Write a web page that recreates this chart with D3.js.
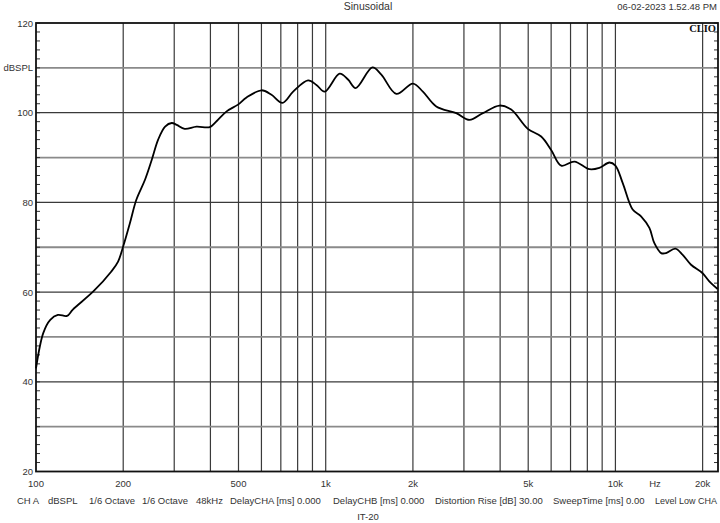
<!DOCTYPE html>
<html>
<head>
<meta charset="utf-8">
<script src="https://cdn.jsdelivr.net/npm/d3@7/dist/d3.min.js"></script>
<style>
html,body{margin:0;padding:0;background:#fff;}
svg{display:block;}
text{font-family:"Liberation Sans",Arial,sans-serif;font-size:9.5px;fill:#333;}
</style>
</head>
<body>
<svg id="chart" width="720" height="523"></svg>
<script>
// Frequency response data (Hz, dBSPL)
const freqs = [100,106,112,119,128,134,158,182,192,200,211,222,238,251,264,279,294,306,326,358,398,420,455,498,533,600,650,709,772,869,929,992,1117,1194,1269,1449,1556,1753,2000,2165,2408,2823,3137,3486,3981,4368,4985,5543,6001,6500,7222,8136,8800,9535,10000,10600,11470,12260,13100,13630,14380,14960,16100,17070,18240,20000,21090,22530];
const spl   = [43.0,50.9,53.8,54.9,54.7,56.1,60.2,64.6,66.8,70.2,75.4,80.6,85.1,89.5,94.0,96.9,97.7,97.3,96.4,96.9,96.8,98.1,100.3,101.8,103.4,105.0,104.0,102.2,104.7,107.2,106.2,104.7,108.7,107.4,105.5,110.1,108.5,104.2,106.5,104.7,101.4,99.9,98.4,99.9,101.6,100.7,96.4,94.7,91.7,88.2,89.1,87.4,87.7,88.9,88.2,84.3,78.4,76.9,74.3,70.9,68.7,68.7,69.7,68.3,66.1,64.2,62.4,60.7];

const xGrid = [200,300,400,500,600,700,800,900,1000,2000,3000,4000,5000,6000,7000,8000,9000,10000,20000];
const xTickVals = [100,200,500,1000,2000,5000,10000,20000];
const xTickLabels = ["100","200","500","1k","2k","5k","10k","20k"];
const yMajor = [40,60,80,100];
const yMinorGrid = [30,50,70,90,110];
const yTickVals = [20,40,60,80,100,120];
const yTickLabels = ["20","40","60","80","100","120"];
const infoItems = ["CH A","dBSPL","1/6 Octave","1/6 Octave","48kHz","DelayCHA [ms] 0.000","DelayCHB [ms] 0.000","Distortion Rise [dB] 30.00","SweepTime [ms] 0.00","Level Low CHA"];
const infoX = [17,48,89,142,196,230,333,435,553,655];

const L = 36, R = 718, T = 23, B = 471.5;
const svg = d3.select("#chart");
const x = d3.scaleLog().domain([100, 22600]).range([L, R]);
const y = d3.scaleLinear().domain([20, 120]).range([B, T]);

// grid
const g = svg.append("g");
g.selectAll(".vg").data(xGrid).enter().append("line")
  .attr("x1", d => x(d)).attr("x2", d => x(d)).attr("y1", T).attr("y2", B)
  .attr("stroke", "#3a3a3a").attr("stroke-width", 1.2);
g.selectAll(".hgm").data(yMinorGrid).enter().append("line")
  .attr("x1", L).attr("x2", R).attr("y1", d => y(d)).attr("y2", d => y(d))
  .attr("stroke", "#8a8a8a").attr("stroke-width", 1.8);
g.selectAll(".hg").data(yMajor).enter().append("line")
  .attr("x1", L).attr("x2", R).attr("y1", d => y(d)).attr("y2", d => y(d))
  .attr("stroke", "#3a3a3a").attr("stroke-width", 1.2);

// minor ticks every 2 dB
const minor = d3.range(20, 121, 2);
g.selectAll(".lt").data(minor).enter().append("line")
  .attr("x1", L).attr("x2", L + 4).attr("y1", d => y(d)).attr("y2", d => y(d))
  .attr("stroke", "#333").attr("stroke-width", 1);
g.selectAll(".rt").data(minor).enter().append("line")
  .attr("x1", R - 4).attr("x2", R).attr("y1", d => y(d)).attr("y2", d => y(d))
  .attr("stroke", "#333").attr("stroke-width", 1);

// frame
svg.append("rect").attr("x", L).attr("y", T).attr("width", R - L).attr("height", B - T)
  .attr("fill", "none").attr("stroke", "#111").attr("stroke-width", 1.8);

// curve
const pts = freqs.map((f, i) => [f, spl[i]]);
const line = d3.line().x(d => x(d[0])).y(d => y(d[1])).curve(d3.curveCatmullRom.alpha(0.5));
svg.append("path").datum(pts).attr("d", line)
  .attr("fill", "none").attr("stroke", "#000").attr("stroke-width", 1.8).attr("stroke-linejoin", "round");

// y labels
svg.selectAll(".yl").data(yTickVals).enter().append("text")
  .attr("x", 33).attr("y", d => y(d) + 3.5).attr("text-anchor", "end")
  .text((d, i) => yTickLabels[i]);
svg.append("text").attr("x", 33).attr("y", y(110) + 3.5).attr("text-anchor", "end").text("dBSPL");

// x labels
svg.selectAll(".xl").data(xTickVals).enter().append("text")
  .attr("x", d => x(d)).attr("y", 487).attr("text-anchor", "middle")
  .text((d, i) => xTickLabels[i]);
svg.append("text").attr("x", 655).attr("y", 487).attr("text-anchor", "middle").text("Hz");

// titles
svg.append("text").attr("x", 368).attr("y", 10).attr("text-anchor", "middle")
  .style("font-size", "10.5px").text("Sinusoidal");
svg.append("text").attr("x", 717).attr("y", 10).attr("text-anchor", "end").text("06-02-2023 1.52.48 PM");
svg.append("text").attr("x", 716).attr("y", 32).attr("text-anchor", "end")
  .style("font-family", "'Liberation Serif','DejaVu Serif',serif").style("font-weight", "bold")
  .style("font-size", "10.5px").style("fill", "#111").text("CLIO");

// info line
svg.selectAll(".info").data(infoItems).enter().append("text")
  .attr("x", (d, i) => infoX[i]).attr("y", 504)
  .style("font-size", (d, i) => i === infoItems.length - 1 ? "9px" : null)
  .text(d => d);
svg.append("text").attr("x", 368).attr("y", 520).attr("text-anchor", "middle").text("IT-20");
</script>
</body>
</html>
